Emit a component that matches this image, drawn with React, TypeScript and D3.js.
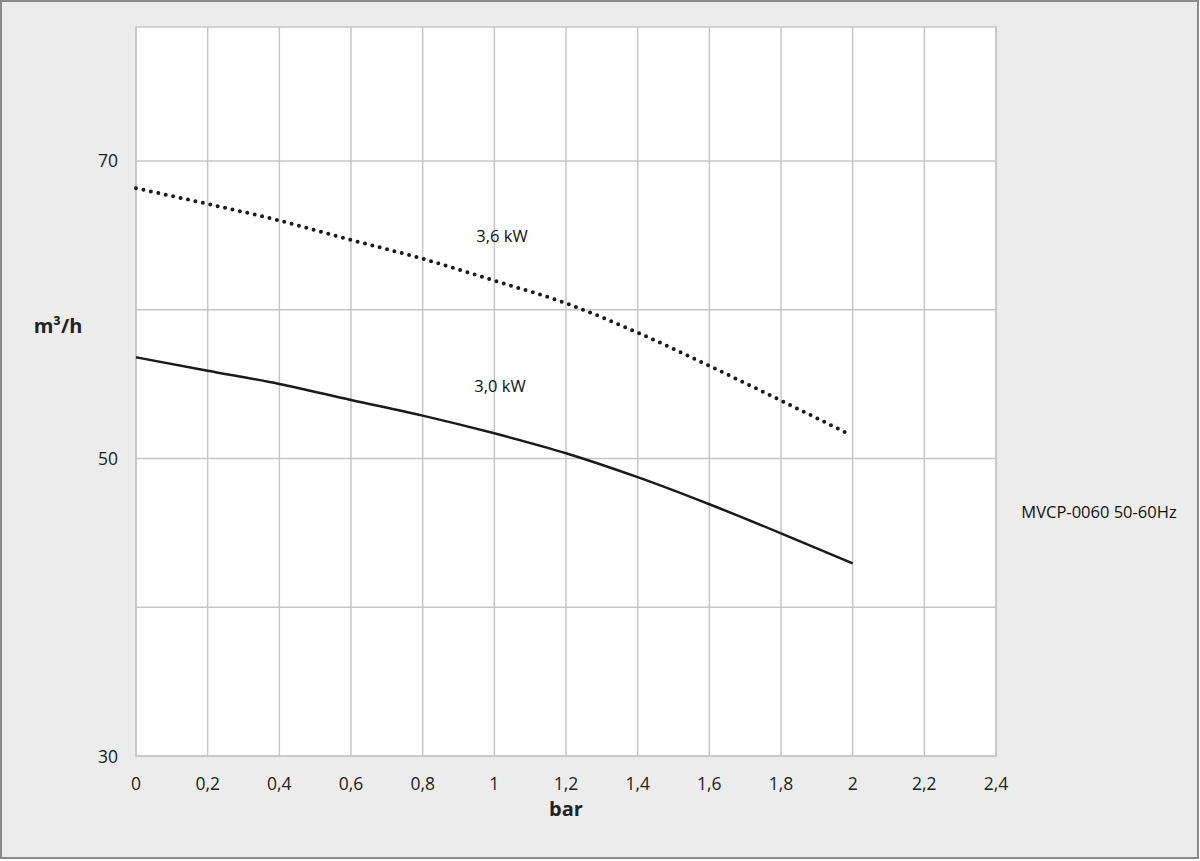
import React from "react";
import * as d3 from "d3";

const pressureBar = [0, 0.2, 0.4, 0.6, 0.8, 1.0, 1.2, 1.4, 1.6, 1.8, 2.0];
const flow30kW = [56.8, 55.9, 55.01, 53.93, 52.88, 51.69, 50.35, 48.74, 46.92, 44.97, 42.95];
const pressureBar36 = [0, 0.2, 0.4, 0.6, 0.8, 1.0, 1.2, 1.4, 1.6, 1.8, 1.985];
const flow36kW = [68.16, 67.11, 65.99, 64.69, 63.42, 61.95, 60.43, 58.46, 56.22, 53.89, 51.69];
const xTicks = [0, 0.2, 0.4, 0.6, 0.8, 1.0, 1.2, 1.4, 1.6, 1.8, 2.0, 2.2, 2.4];
const yGrid = [30, 40, 50, 60, 70];
const yLabels = [30, 50, 70];
const seriesLabels = ["3,6 kW", "3,0 kW"];
const title = "MVCP-0060 50-60Hz";

const W = 1200;
const H = 861;
const left = 136;
const right = 996;
const top = 27;
const bottom = 756;

export default function App() {
  const x = d3.scaleLinear().domain([0, 2.4]).range([left, right]);
  const y = d3.scaleLinear().domain([30, 79]).range([bottom, top]);
  const line = d3
    .line<[number, number]>()
    .x((d) => x(d[0]))
    .y((d) => y(d[1]))
    .curve(d3.curveMonotoneX);
  const solid = line(pressureBar.map((p, i) => [p, flow30kW[i]]));
  const dotted = line(pressureBar36.map((p, i) => [p, flow36kW[i]]));
  const fmt = (v: number) => String(v).replace(".", ",");
  const font = "'Open Sans', 'Noto Sans', sans-serif";

  return (
    <svg
      width={W}
      height={H}
      style={{ position: "absolute", left: 0, top: 0, display: "block" }}
      fontFamily={font}
    >
      <rect x={1} y={1} width={1197} height={857} fill="#ececec" stroke="#8a8a8a" strokeWidth={2} />
      <rect x={left} y={top} width={right - left} height={bottom - top} fill="#ffffff" />
      {xTicks.map((t) => (
        <line key={"gx" + t} x1={x(t)} x2={x(t)} y1={top} y2={bottom} stroke="#c6c6c6" strokeWidth={1.5} />
      ))}
      {yGrid.map((t) => (
        <line key={"gy" + t} x1={left} x2={right} y1={y(t)} y2={y(t)} stroke="#c6c6c6" strokeWidth={1.5} />
      ))}
      <rect x={left} y={top} width={right - left} height={bottom - top} fill="none" stroke="#c6c6c6" strokeWidth={1.5} />
      {yLabels.map((t) => (
        <text key={"yl" + t} x={118} y={y(t) + 6.5} textAnchor="end" fontSize={17.5} fill="#222">
          {t}
        </text>
      ))}
      {xTicks.map((t) => (
        <text key={"xl" + t} x={x(t)} y={790} textAnchor="middle" fontSize={17.5} fill="#222">
          {fmt(t)}
        </text>
      ))}
      <path d={solid || ""} fill="none" stroke="#1a1a1a" strokeWidth={2.5} />
      <path
        d={dotted || ""}
        fill="none"
        stroke="#1a1a1a"
        strokeWidth={4}
        strokeLinecap="round"
        strokeDasharray="0 7.6"
      />
      <text x={502} y={242} textAnchor="middle" fontSize={16.5} fill="#111">
        {seriesLabels[0]}
      </text>
      <text x={500} y={392} textAnchor="middle" fontSize={16.5} fill="#111">
        {seriesLabels[1]}
      </text>
      <text x={58} y={333} textAnchor="middle" fontSize={20} fontWeight="bold" fill="#222">
        m³/h
      </text>
      <text x={566} y={816} textAnchor="middle" fontSize={20} fontWeight="bold" fill="#222">
        bar
      </text>
      <text x={1099} y={518} textAnchor="middle" fontSize={16.5} fill="#111">
        {title}
      </text>
    </svg>
  );
}
